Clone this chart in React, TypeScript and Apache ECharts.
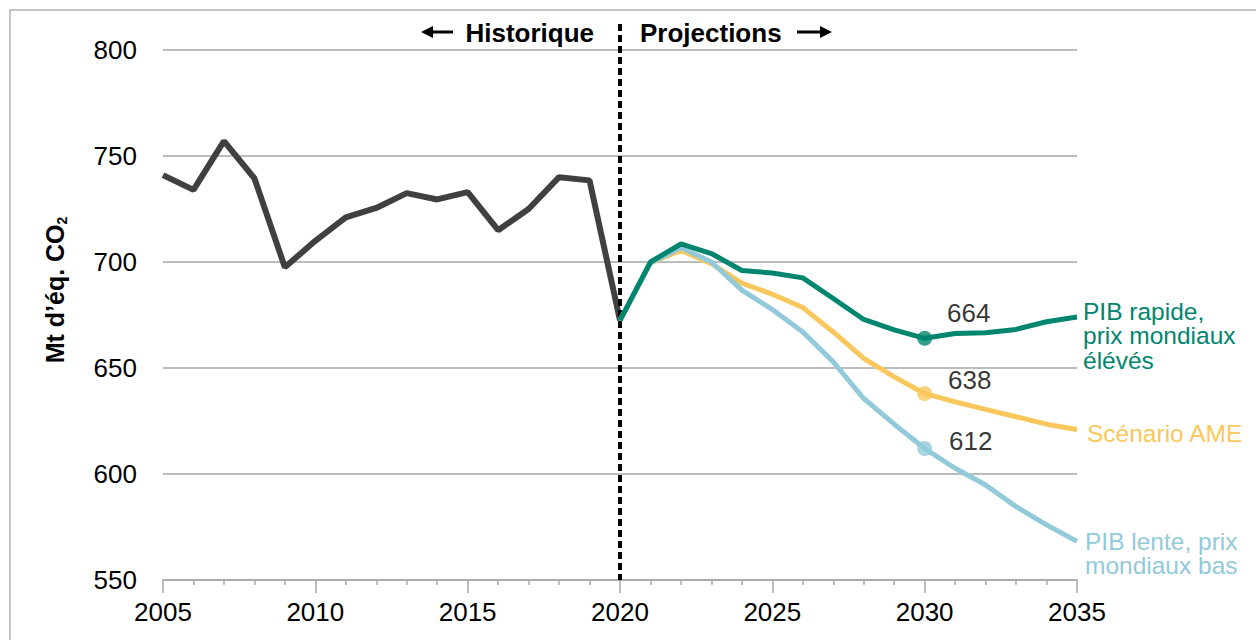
import React, { useEffect, useRef } from "react";
import * as echarts from "echarts";

const histYears = [2005, 2006, 2007, 2008, 2009, 2010, 2011, 2012, 2013, 2014, 2015, 2016, 2017, 2018, 2019, 2020];
const histValues = [741, 734, 757, 739.5, 697.5, 710, 721, 725.5, 732.5, 729.5, 733, 715, 725, 740, 738.5, 672.5];

const projYears = [2020, 2021, 2022, 2023, 2024, 2025, 2026, 2027, 2028, 2029, 2030, 2031, 2032, 2033, 2034, 2035];
const highValues = [672.5, 700, 708.5, 704, 696, 694.8, 692.5, 682.8, 672.9, 668, 664, 666.3, 666.6, 668.2, 671.8, 674.1];
const ameValues = [672.5, 699.5, 705.5, 699.2, 690, 684.8, 678.5, 667, 654.5, 645.8, 638, 634, 630.5, 627, 623.5, 621];
const lowValues = [672.5, 699.5, 706.8, 700, 686.7, 677.6, 667, 652.9, 635.6, 623.5, 612, 602.7, 594.8, 584.6, 576, 568.2];

const highLabel = "PIB rapide,\nprix mondiaux\nélévés";
const ameLabel = "Scénario AME";
const lowLabel = "PIB lente, prix\nmondiaux bas";

const markYear = 2030;
const splitYear = 2020;

const FONT = "'Liberation Sans', Arial, sans-serif";
const DARK = "#404040";
const GREEN = "#00866e";
const YELLOW = "#f9c75c";
const BLUE = "#93cad9";
const GRID_GRAY = "#a6a6a6";

function pairs(xs: number[], ys: number[]) {
  return xs.map((x, i) => [x, ys[i]]);
}

export default function App() {
  const ref = useRef<HTMLDivElement>(null);

  useEffect(() => {
    if (!ref.current) return;
    const chart = echarts.init(ref.current, null, { renderer: "svg" });
    const mi = projYears.indexOf(markYear);

    const endLabel = (text: string, color: string, dist: number, dy: number) => ({
      show: true,
      formatter: text,
      color,
      fontSize: 24.5,
      lineHeight: 24.5,
      fontFamily: FONT,
      distance: dist,
      offset: [0, dy],
      align: "left",
      verticalAlign: "middle",
    });

    const marker = (val: number, color: string, off: number[]) => ({
      type: "scatter",
      data: [[markYear, val]],
      symbol: "circle",
      symbolSize: 15,
      itemStyle: { color },
      z: 5,
      label: {
        show: true,
        position: "inside",
        offset: off,
        formatter: (p: any) => String(Math.round(p.value[1])),
        color: "#000",
        textBorderWidth: 0,
        fontSize: 26,
        fontFamily: FONT,
      },
    });

    const option: any = {
      animation: false,
      grid: { left: 163, right: 179, top: 50, bottom: 60 },
      xAxis: {
        type: "value",
        min: 2005,
        max: 2035,
        interval: 5,
        axisLine: { show: true, lineStyle: { color: GRID_GRAY, width: 1.5 } },
        axisTick: { show: true, length: 13, lineStyle: { color: GRID_GRAY, width: 1.5 } },
        minorTick: { show: true, splitNumber: 5, length: 5, lineStyle: { color: GRID_GRAY, width: 1.5 } },
        splitLine: { show: false },
        axisLabel: {
          color: "#000",
          fontSize: 26,
          fontFamily: FONT,
          margin: 19,
          formatter: (v: number) => String(v),
        },
      },
      yAxis: {
        type: "value",
        min: 550,
        max: 800,
        interval: 50,
        axisLine: { show: false },
        axisTick: { show: false },
        splitLine: { show: true, lineStyle: { color: GRID_GRAY, width: 1.5 } },
        axisLabel: { color: "#000", fontSize: 26, fontFamily: FONT, margin: 26 },
      },
      series: [
        {
          type: "line",
          data: pairs(histYears, histValues),
          symbol: "none",
          lineStyle: { color: DARK, width: 6 },
          z: 2,
        },
        {
          type: "line",
          data: pairs(projYears, ameValues),
          symbol: "none",
          lineStyle: { color: YELLOW, width: 5 },
          z: 3,
          endLabel: endLabel(ameLabel, YELLOW, 10, 4),
        },
        {
          type: "line",
          data: pairs(projYears, lowValues),
          symbol: "none",
          lineStyle: { color: BLUE, width: 5 },
          z: 3,
          endLabel: endLabel(lowLabel, BLUE, 8, 12),
        },
        {
          type: "line",
          data: pairs(projYears, highValues),
          symbol: "none",
          lineStyle: { color: GREEN, width: 5 },
          z: 4,
          endLabel: endLabel(highLabel, GREEN, 6, 19),
        },
        marker(highValues[mi], GREEN, [44, -25]),
        marker(ameValues[mi], YELLOW, [45, -13]),
        marker(lowValues[mi], BLUE, [46, -8]),
      ],
    };
    chart.setOption(option);

    const top = chart.convertToPixel({ xAxisIndex: 0, yAxisIndex: 0 } as any, [splitYear, 800]) as number[];
    const bot = chart.convertToPixel({ xAxisIndex: 0, yAxisIndex: 0 } as any, [splitYear, 550]) as number[];
    const sx = top[0];
    const hy = 32;

    chart.setOption({
      graphic: [
        {
          type: "rect",
          shape: { x: 10, y: 10, width: 1400, height: 900 },
          style: { fill: "none", stroke: "#b3b3b3", lineWidth: 1.5 },
          silent: true,
          z: 0,
        },
        {
          type: "line",
          shape: { x1: sx, y1: 24, x2: sx, y2: bot[1] },
          style: { stroke: "#000", lineWidth: 4, lineDash: [7, 4] },
          z: 3,
        },
        {
          type: "text",
          x: sx - 26,
          y: hy + 1,
          style: {
            text: "Historique",
            fontSize: 26,
            fontWeight: "bold",
            fontFamily: FONT,
            fill: "#000",
            align: "right",
            verticalAlign: "middle",
          },
        },
        {
          type: "text",
          x: sx + 20,
          y: hy + 1,
          style: {
            text: "Projections",
            fontSize: 26,
            fontWeight: "bold",
            fontFamily: FONT,
            fill: "#000",
            align: "left",
            verticalAlign: "middle",
          },
        },
        {
          type: "line",
          shape: { x1: 430, y1: hy, x2: 453, y2: hy },
          style: { stroke: "#000", lineWidth: 3 },
        },
        {
          type: "polygon",
          shape: { points: [[421, hy], [433, hy - 6], [433, hy + 6]] },
          style: { fill: "#000" },
        },
        {
          type: "line",
          shape: { x1: 797, y1: hy, x2: 823, y2: hy },
          style: { stroke: "#000", lineWidth: 3 },
        },
        {
          type: "polygon",
          shape: { points: [[832, hy], [820, hy - 6], [820, hy + 6]] },
          style: { fill: "#000" },
        },
        {
          type: "text",
          x: 55,
          y: 290,
          rotation: Math.PI / 2,
          style: {
            text: "{b|Mt d’éq. CO}{s|2}",
            align: "center",
            verticalAlign: "middle",
            fill: "#000",
            rich: {
              b: { fontSize: 25, fontWeight: "bold", fontFamily: FONT, fill: "#000", lineHeight: 28 },
              s: { fontSize: 14, fontWeight: "bold", fontFamily: FONT, fill: "#000", verticalAlign: "bottom", lineHeight: 14 },
            },
          },
        },
      ],
    });

    return () => chart.dispose();
  }, []);

  return (
    <div
      ref={ref}
      style={{ position: "fixed", left: 0, top: 0, width: 1256, height: 640, background: "#fff" }}
    />
  );
}
